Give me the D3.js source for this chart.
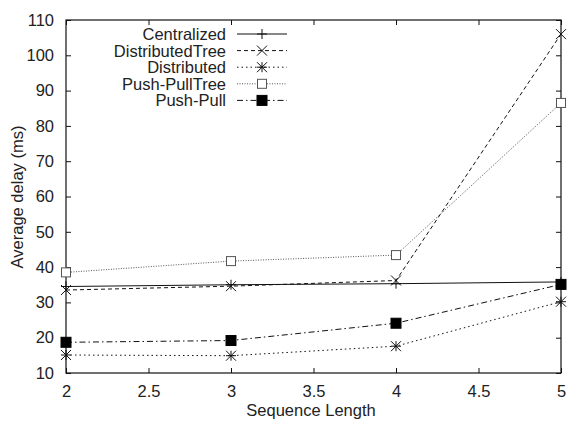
<!DOCTYPE html>
<html>
<head>
<meta charset="utf-8">
<script src="https://cdn.jsdelivr.net/npm/d3@7/dist/d3.min.js"></script>
<style>
  html, body { margin: 0; padding: 0; background: #fff; }
  svg text { font-family: "Liberation Sans", Arial, Helvetica, sans-serif; fill: #222; }
</style>
</head>
<body>
<svg id="chart" width="568" height="421"></svg>
<script>
// Sequence lengths on the x axis
const sequenceLengths = [2, 3, 4, 5];

// Average delay (ms) per scheme
const centralized     = [34.5, 35.0, 35.3, 35.8];
const distributedTree = [33.5, 34.6, 36.2, 106.0];
const distributed     = [15.1, 14.9, 17.6, 30.2];
const pushPullTree    = [38.5, 41.7, 43.4, 86.5];
const pushPull        = [18.7, 19.2, 24.1, 35.1];

const xTicks = [2, 2.5, 3, 3.5, 4, 4.5, 5];
const yTicks = [10, 20, 30, 40, 50, 60, 70, 80, 90, 100, 110];

const seriesList = [
  { name: "Centralized",     values: centralized,     dash: null,          marker: "plus",   color: "#111" },
  { name: "DistributedTree", values: distributedTree, dash: "4,3",         marker: "cross",  color: "#111" },
  { name: "Distributed",     values: distributed,     dash: "1.5,3",       marker: "star",   color: "#111" },
  { name: "Push-PullTree",   values: pushPullTree,    dash: "1,1.5",       marker: "box",    color: "#555" },
  { name: "Push-Pull",       values: pushPull,        dash: "6,3,1.5,3",   marker: "fbox",   color: "#111" }
];

const fontSize = 16.5;
const svg = d3.select("#chart");
const plotLeft = 66, plotRight = 561, plotTop = 20, plotBottom = 373;

const x = d3.scaleLinear().domain([2, 5]).range([plotLeft, plotRight]);
const y = d3.scaleLinear().domain([10, 110]).range([plotBottom, plotTop]);

// Frame
svg.append("rect")
  .attr("x", plotLeft).attr("y", plotTop)
  .attr("width", plotRight - plotLeft).attr("height", plotBottom - plotTop)
  .attr("fill", "none").attr("stroke", "#111").attr("stroke-width", 1.2);

const tickLen = 5;
// Axes with inward ticks on bottom/left, mirrored ticks on top/right
const xAxis = d3.axisBottom(x).tickValues(xTicks).tickSize(-tickLen).tickPadding(12)
  .tickFormat(d3.format("~g"));
const yAxis = d3.axisLeft(y).tickValues(yTicks).tickSize(-tickLen).tickPadding(12);

const gx = svg.append("g").attr("transform", `translate(0,${plotBottom})`).call(xAxis);
const gy = svg.append("g").attr("transform", `translate(${plotLeft},0)`).call(yAxis);
const gxt = svg.append("g").attr("transform", `translate(0,${plotTop})`)
  .call(d3.axisTop(x).tickValues(xTicks).tickSize(-tickLen).tickFormat(""));
const gyr = svg.append("g").attr("transform", `translate(${plotRight},0)`)
  .call(d3.axisRight(y).tickValues(yTicks).tickSize(-tickLen).tickFormat(""));

[gx, gy, gxt, gyr].forEach(g => {
  g.select(".domain").remove();
  g.selectAll(".tick line").attr("stroke", "#111");
  g.selectAll("text").attr("font-size", fontSize).attr("fill", "#222")
    .style("font-family", "'Liberation Sans', Arial, sans-serif");
});

// Axis titles
svg.append("text")
  .attr("x", 311).attr("y", 416)
  .attr("text-anchor", "middle").attr("font-size", fontSize)
  .text("Sequence Length");
svg.append("text")
  .attr("transform", `translate(23,197) rotate(-90)`)
  .attr("text-anchor", "middle").attr("font-size", fontSize)
  .text("Average delay (ms)");

// Marker drawing
function drawMarker(g, type, cx, cy, color) {
  const s = 5;
  if (type === "plus") {
    g.append("path").attr("d", `M${cx - s},${cy}H${cx + s}M${cx},${cy - s}V${cy + s}`)
      .attr("stroke", color).attr("stroke-width", 1).attr("fill", "none");
  } else if (type === "cross") {
    g.append("path").attr("d", `M${cx - s},${cy - s}L${cx + s},${cy + s}M${cx - s},${cy + s}L${cx + s},${cy - s}`)
      .attr("stroke", color).attr("stroke-width", 1).attr("fill", "none");
  } else if (type === "star") {
    g.append("path").attr("d",
      `M${cx - s},${cy - s}L${cx + s},${cy + s}M${cx - s},${cy + s}L${cx + s},${cy - s}M${cx - s},${cy}H${cx + s}M${cx},${cy - s}V${cy + s}`)
      .attr("stroke", color).attr("stroke-width", 1).attr("fill", "none");
  } else if (type === "box") {
    g.append("rect").attr("x", cx - 4.5).attr("y", cy - 4.5).attr("width", 9).attr("height", 9)
      .attr("stroke", color).attr("stroke-width", 1).attr("fill", "#fff");
  } else if (type === "fbox") {
    g.append("rect").attr("x", cx - 5).attr("y", cy - 5).attr("width", 10).attr("height", 10)
      .attr("stroke", "#000").attr("stroke-width", 1).attr("fill", "#000");
  }
}

const line = d3.line().x((d, i) => x(sequenceLengths[i])).y(d => y(d));

const plot = svg.append("g");
seriesList.forEach(s => {
  plot.append("path")
    .datum(s.values)
    .attr("d", line)
    .attr("fill", "none")
    .attr("stroke", s.color)
    .attr("stroke-width", 1)
    .attr("stroke-dasharray", s.dash);
  s.values.forEach((v, i) => drawMarker(plot, s.marker, x(sequenceLengths[i]), y(v), s.color));
});

// Legend
const legend = svg.append("g");
const legendTextX = 226, sampleX0 = 237, sampleX1 = 287, rowY0 = 34, rowGap = 16.6;
seriesList.forEach((s, i) => {
  const ry = rowY0 + i * rowGap;
  legend.append("text")
    .attr("x", legendTextX).attr("y", ry + 6)
    .attr("text-anchor", "end").attr("font-size", fontSize)
    .text(s.name);
  legend.append("line")
    .attr("x1", sampleX0).attr("x2", sampleX1).attr("y1", ry).attr("y2", ry)
    .attr("stroke", s.color).attr("stroke-width", 1)
    .attr("stroke-dasharray", s.dash);
  drawMarker(legend, s.marker, (sampleX0 + sampleX1) / 2, ry, s.color);
});
</script>
</body>
</html>
